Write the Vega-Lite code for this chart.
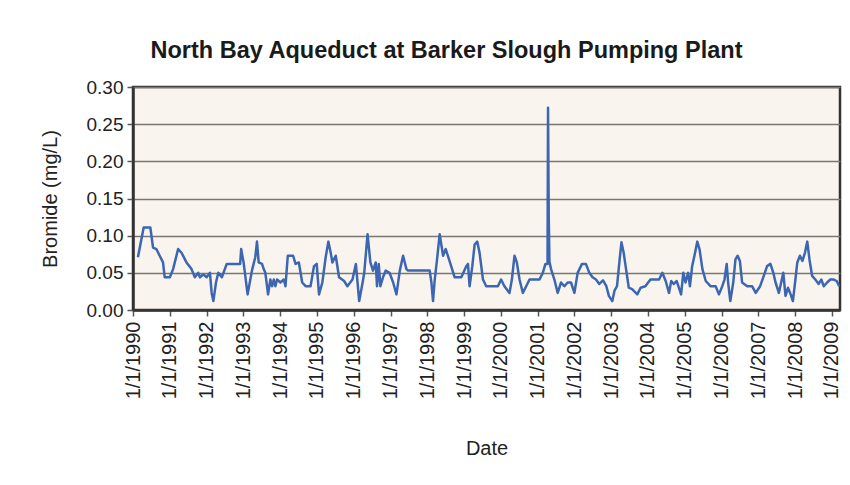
{
  "$schema": "https://vega.github.io/schema/vega-lite/v6.json",
  "width": 707,
  "height": 223,
  "autosize": {"type": "none"},
  "padding": {"left": 133, "top": 87, "right": 10, "bottom": 175},
  "background": "#ffffff",
  "title": {
    "text": "North Bay Aqueduct at Barker Slough Pumping Plant",
    "font": "Liberation Sans",
    "fontSize": 23.5,
    "fontWeight": "bold",
    "color": "#1a1a1a",
    "anchor": "middle",
    "dx": -40,
    "offset": 16
  },
  "config": {
    "view": {"fill": "#f9f5ee", "stroke": "#333333", "strokeWidth": 2.5},
    "axis": {
      "labelFont": "Liberation Sans",
      "titleFont": "Liberation Sans",
      "labelColor": "#222222",
      "titleColor": "#222222",
      "titleFontWeight": "normal"
    }
  },
  "data": {
    "values": [
      {"date": "1990-02-19", "bromide": 0.071},
      {"date": "1990-04-17", "bromide": 0.111},
      {"date": "1990-06-22", "bromide": 0.111},
      {"date": "1990-07-19", "bromide": 0.084},
      {"date": "1990-08-21", "bromide": 0.082},
      {"date": "1990-09-23", "bromide": 0.073},
      {"date": "1990-10-26", "bromide": 0.064},
      {"date": "1990-11-12", "bromide": 0.044},
      {"date": "1991-01-02", "bromide": 0.044},
      {"date": "1991-02-03", "bromide": 0.055},
      {"date": "1991-03-25", "bromide": 0.082},
      {"date": "1991-04-28", "bromide": 0.077},
      {"date": "1991-06-16", "bromide": 0.064},
      {"date": "1991-08-05", "bromide": 0.055},
      {"date": "1991-09-07", "bromide": 0.044},
      {"date": "1991-10-11", "bromide": 0.05},
      {"date": "1991-10-27", "bromide": 0.044},
      {"date": "1991-12-01", "bromide": 0.048},
      {"date": "1992-01-02", "bromide": 0.044},
      {"date": "1992-02-04", "bromide": 0.05},
      {"date": "1992-02-21", "bromide": 0.023},
      {"date": "1992-03-09", "bromide": 0.012},
      {"date": "1992-04-04", "bromide": 0.037},
      {"date": "1992-04-27", "bromide": 0.05},
      {"date": "1992-06-01", "bromide": 0.044},
      {"date": "1992-07-20", "bromide": 0.062},
      {"date": "1992-11-30", "bromide": 0.062},
      {"date": "1992-12-10", "bromide": 0.082},
      {"date": "1993-01-03", "bromide": 0.064},
      {"date": "1993-02-12", "bromide": 0.021},
      {"date": "1993-03-27", "bromide": 0.053},
      {"date": "1993-04-29", "bromide": 0.071},
      {"date": "1993-05-16", "bromide": 0.092},
      {"date": "1993-06-02", "bromide": 0.064},
      {"date": "1993-07-05", "bromide": 0.062},
      {"date": "1993-07-22", "bromide": 0.055},
      {"date": "1993-08-07", "bromide": 0.05},
      {"date": "1993-09-03", "bromide": 0.021},
      {"date": "1993-09-26", "bromide": 0.041},
      {"date": "1993-10-13", "bromide": 0.032},
      {"date": "1993-10-30", "bromide": 0.041},
      {"date": "1993-11-15", "bromide": 0.032},
      {"date": "1993-12-02", "bromide": 0.041},
      {"date": "1994-01-04", "bromide": 0.037},
      {"date": "1994-02-06", "bromide": 0.041},
      {"date": "1994-02-23", "bromide": 0.032},
      {"date": "1994-03-18", "bromide": 0.073},
      {"date": "1994-05-10", "bromide": 0.073},
      {"date": "1994-06-03", "bromide": 0.062},
      {"date": "1994-07-06", "bromide": 0.064},
      {"date": "1994-08-08", "bromide": 0.037},
      {"date": "1994-09-11", "bromide": 0.032},
      {"date": "1994-10-30", "bromide": 0.032},
      {"date": "1994-12-03", "bromide": 0.059},
      {"date": "1994-12-30", "bromide": 0.062},
      {"date": "1995-01-22", "bromide": 0.021},
      {"date": "1995-02-24", "bromide": 0.037},
      {"date": "1995-03-29", "bromide": 0.071},
      {"date": "1995-04-25", "bromide": 0.092},
      {"date": "1995-05-18", "bromide": 0.077},
      {"date": "1995-06-04", "bromide": 0.064},
      {"date": "1995-07-07", "bromide": 0.073},
      {"date": "1995-08-09", "bromide": 0.044},
      {"date": "1995-09-28", "bromide": 0.039},
      {"date": "1995-10-31", "bromide": 0.032},
      {"date": "1995-12-20", "bromide": 0.041},
      {"date": "1996-01-23", "bromide": 0.062},
      {"date": "1996-02-25", "bromide": 0.012},
      {"date": "1996-03-30", "bromide": 0.037},
      {"date": "1996-04-15", "bromide": 0.05},
      {"date": "1996-05-18", "bromide": 0.102},
      {"date": "1996-06-15", "bromide": 0.064},
      {"date": "1996-07-11", "bromide": 0.053},
      {"date": "1996-08-07", "bromide": 0.064},
      {"date": "1996-08-20", "bromide": 0.032},
      {"date": "1996-09-06", "bromide": 0.062},
      {"date": "1996-09-22", "bromide": 0.032},
      {"date": "1996-10-18", "bromide": 0.044},
      {"date": "1996-11-14", "bromide": 0.053},
      {"date": "1996-12-23", "bromide": 0.05},
      {"date": "1997-01-27", "bromide": 0.037},
      {"date": "1997-03-01", "bromide": 0.021},
      {"date": "1997-04-03", "bromide": 0.053},
      {"date": "1997-05-06", "bromide": 0.073},
      {"date": "1997-06-08", "bromide": 0.055},
      {"date": "1997-06-24", "bromide": 0.053},
      {"date": "1998-01-25", "bromide": 0.053},
      {"date": "1998-02-11", "bromide": 0.037},
      {"date": "1998-02-27", "bromide": 0.012},
      {"date": "1998-03-16", "bromide": 0.041},
      {"date": "1998-04-08", "bromide": 0.068},
      {"date": "1998-05-04", "bromide": 0.102},
      {"date": "1998-06-07", "bromide": 0.073},
      {"date": "1998-07-03", "bromide": 0.082},
      {"date": "1998-08-05", "bromide": 0.068},
      {"date": "1998-09-30", "bromide": 0.044},
      {"date": "1998-12-05", "bromide": 0.044},
      {"date": "1999-01-23", "bromide": 0.059},
      {"date": "1999-02-09", "bromide": 0.062},
      {"date": "1999-02-25", "bromide": 0.032},
      {"date": "1999-03-24", "bromide": 0.059},
      {"date": "1999-04-16", "bromide": 0.088},
      {"date": "1999-05-12", "bromide": 0.092},
      {"date": "1999-06-04", "bromide": 0.077},
      {"date": "1999-07-08", "bromide": 0.041},
      {"date": "1999-08-09", "bromide": 0.032},
      {"date": "1999-12-03", "bromide": 0.032},
      {"date": "2000-01-04", "bromide": 0.041},
      {"date": "2000-02-06", "bromide": 0.032},
      {"date": "2000-03-27", "bromide": 0.023},
      {"date": "2000-04-20", "bromide": 0.041},
      {"date": "2000-05-16", "bromide": 0.073},
      {"date": "2000-06-08", "bromide": 0.064},
      {"date": "2000-07-05", "bromide": 0.041},
      {"date": "2000-08-07", "bromide": 0.023},
      {"date": "2000-09-09", "bromide": 0.032},
      {"date": "2000-10-12", "bromide": 0.041},
      {"date": "2001-01-19", "bromide": 0.041},
      {"date": "2001-02-21", "bromide": 0.05},
      {"date": "2001-03-19", "bromide": 0.062},
      {"date": "2001-04-09", "bromide": 0.062},
      {"date": "2001-04-14", "bromide": 0.272},
      {"date": "2001-04-21", "bromide": 0.125},
      {"date": "2001-04-28", "bromide": 0.065},
      {"date": "2001-05-14", "bromide": 0.055},
      {"date": "2001-06-16", "bromide": 0.041},
      {"date": "2001-07-19", "bromide": 0.023},
      {"date": "2001-08-21", "bromide": 0.037},
      {"date": "2001-09-23", "bromide": 0.032},
      {"date": "2001-10-26", "bromide": 0.037},
      {"date": "2001-11-28", "bromide": 0.037},
      {"date": "2002-01-01", "bromide": 0.023},
      {"date": "2002-02-02", "bromide": 0.05},
      {"date": "2002-03-17", "bromide": 0.062},
      {"date": "2002-04-25", "bromide": 0.062},
      {"date": "2002-05-29", "bromide": 0.05},
      {"date": "2002-06-30", "bromide": 0.044},
      {"date": "2002-08-03", "bromide": 0.041},
      {"date": "2002-09-05", "bromide": 0.035},
      {"date": "2002-10-12", "bromide": 0.04},
      {"date": "2002-11-14", "bromide": 0.032},
      {"date": "2002-12-09", "bromide": 0.019},
      {"date": "2003-01-12", "bromide": 0.012},
      {"date": "2003-02-03", "bromide": 0.026},
      {"date": "2003-02-28", "bromide": 0.032},
      {"date": "2003-03-26", "bromide": 0.068},
      {"date": "2003-04-13", "bromide": 0.091},
      {"date": "2003-05-05", "bromide": 0.077},
      {"date": "2003-06-03", "bromide": 0.05},
      {"date": "2003-06-25", "bromide": 0.03},
      {"date": "2003-07-28", "bromide": 0.028},
      {"date": "2003-09-17", "bromide": 0.021},
      {"date": "2003-10-20", "bromide": 0.03},
      {"date": "2003-12-06", "bromide": 0.032},
      {"date": "2004-01-26", "bromide": 0.041},
      {"date": "2004-04-20", "bromide": 0.041},
      {"date": "2004-05-23", "bromide": 0.05},
      {"date": "2004-06-25", "bromide": 0.039},
      {"date": "2004-07-28", "bromide": 0.023},
      {"date": "2004-08-19", "bromide": 0.039},
      {"date": "2004-09-13", "bromide": 0.035},
      {"date": "2004-10-13", "bromide": 0.039},
      {"date": "2004-11-03", "bromide": 0.03},
      {"date": "2004-11-25", "bromide": 0.021},
      {"date": "2004-12-17", "bromide": 0.05},
      {"date": "2005-01-08", "bromide": 0.037},
      {"date": "2005-02-03", "bromide": 0.05},
      {"date": "2005-02-21", "bromide": 0.032},
      {"date": "2005-03-15", "bromide": 0.059},
      {"date": "2005-04-13", "bromide": 0.077},
      {"date": "2005-05-05", "bromide": 0.092},
      {"date": "2005-05-27", "bromide": 0.082},
      {"date": "2005-06-25", "bromide": 0.055},
      {"date": "2005-07-28", "bromide": 0.039},
      {"date": "2005-09-13", "bromide": 0.032},
      {"date": "2005-11-03", "bromide": 0.032},
      {"date": "2005-12-06", "bromide": 0.021},
      {"date": "2006-01-08", "bromide": 0.032},
      {"date": "2006-01-30", "bromide": 0.041},
      {"date": "2006-02-21", "bromide": 0.062},
      {"date": "2006-03-07", "bromide": 0.037},
      {"date": "2006-03-29", "bromide": 0.012},
      {"date": "2006-04-27", "bromide": 0.037},
      {"date": "2006-05-19", "bromide": 0.068},
      {"date": "2006-06-10", "bromide": 0.073},
      {"date": "2006-07-02", "bromide": 0.066},
      {"date": "2006-07-24", "bromide": 0.037},
      {"date": "2006-09-13", "bromide": 0.032},
      {"date": "2006-10-31", "bromide": 0.032},
      {"date": "2006-12-06", "bromide": 0.023},
      {"date": "2007-01-19", "bromide": 0.032},
      {"date": "2007-02-24", "bromide": 0.046},
      {"date": "2007-03-29", "bromide": 0.059},
      {"date": "2007-05-01", "bromide": 0.062},
      {"date": "2007-05-30", "bromide": 0.05},
      {"date": "2007-06-21", "bromide": 0.037},
      {"date": "2007-07-24", "bromide": 0.023},
      {"date": "2007-08-19", "bromide": 0.039},
      {"date": "2007-09-06", "bromide": 0.05},
      {"date": "2007-09-28", "bromide": 0.019},
      {"date": "2007-10-23", "bromide": 0.03},
      {"date": "2007-11-18", "bromide": 0.021},
      {"date": "2007-12-10", "bromide": 0.012},
      {"date": "2008-01-01", "bromide": 0.037},
      {"date": "2008-01-23", "bromide": 0.064},
      {"date": "2008-02-18", "bromide": 0.073},
      {"date": "2008-03-14", "bromide": 0.066},
      {"date": "2008-04-08", "bromide": 0.077},
      {"date": "2008-05-01", "bromide": 0.092},
      {"date": "2008-05-23", "bromide": 0.068},
      {"date": "2008-06-18", "bromide": 0.046},
      {"date": "2008-07-20", "bromide": 0.041},
      {"date": "2008-08-22", "bromide": 0.035},
      {"date": "2008-09-17", "bromide": 0.041},
      {"date": "2008-10-12", "bromide": 0.032},
      {"date": "2008-11-14", "bromide": 0.037},
      {"date": "2008-12-16", "bromide": 0.041},
      {"date": "2009-01-19", "bromide": 0.041},
      {"date": "2009-02-17", "bromide": 0.039},
      {"date": "2009-03-14", "bromide": 0.032}
    ]
  },
  "mark": {"type": "line", "color": "#3d66b2", "strokeWidth": 2.5, "strokeJoin": "round"},
  "encoding": {
    "x": {
      "field": "date",
      "type": "temporal",
      "title": "Date",
      "scale": {"domain": [{"year": 1990, "month": 1, "date": 1}, {"year": 2009, "month": 3, "date": 22}]},
      "axis": {
        "values": [
          {"year": 1990, "month": 1, "date": 1}, {"year": 1991, "month": 1, "date": 1},
          {"year": 1992, "month": 1, "date": 1}, {"year": 1993, "month": 1, "date": 1},
          {"year": 1994, "month": 1, "date": 1}, {"year": 1995, "month": 1, "date": 1},
          {"year": 1996, "month": 1, "date": 1}, {"year": 1997, "month": 1, "date": 1},
          {"year": 1998, "month": 1, "date": 1}, {"year": 1999, "month": 1, "date": 1},
          {"year": 2000, "month": 1, "date": 1}, {"year": 2001, "month": 1, "date": 1},
          {"year": 2002, "month": 1, "date": 1}, {"year": 2003, "month": 1, "date": 1},
          {"year": 2004, "month": 1, "date": 1}, {"year": 2005, "month": 1, "date": 1},
          {"year": 2006, "month": 1, "date": 1}, {"year": 2007, "month": 1, "date": 1},
          {"year": 2008, "month": 1, "date": 1}, {"year": 2009, "month": 1, "date": 1}
        ],
        "format": "%-m/%-d/%Y",
        "labelAngle": -90,
        "labelAlign": "right",
        "labelBaseline": "middle",
        "labelFontSize": 20,
        "labelPadding": 5,
        "labelOverlap": false,
        "labelFlush": false,
        "grid": false,
        "domain": true,
        "domainColor": "#333333",
        "domainWidth": 2.5,
        "tickColor": "#555555",
        "tickWidth": 1.5,
        "tickSize": 6,
        "titleFontSize": 20,
        "titlePadding": 40
      }
    },
    "y": {
      "field": "bromide",
      "type": "quantitative",
      "title": "Bromide (mg/L)",
      "scale": {"domain": [0, 0.3], "nice": false},
      "axis": {
        "values": [0, 0.05, 0.1, 0.15, 0.2, 0.25, 0.3],
        "format": ".2f",
        "labelFontSize": 19,
        "labelPadding": 4,
        "grid": true,
        "gridColor": "#7a7672",
        "gridWidth": 1.5,
        "domainColor": "#333333",
        "domainWidth": 2.5,
        "tickColor": "#555555",
        "tickWidth": 1.5,
        "tickSize": 6,
        "titleFontSize": 20,
        "titlePadding": 26
      }
    }
  }
}
